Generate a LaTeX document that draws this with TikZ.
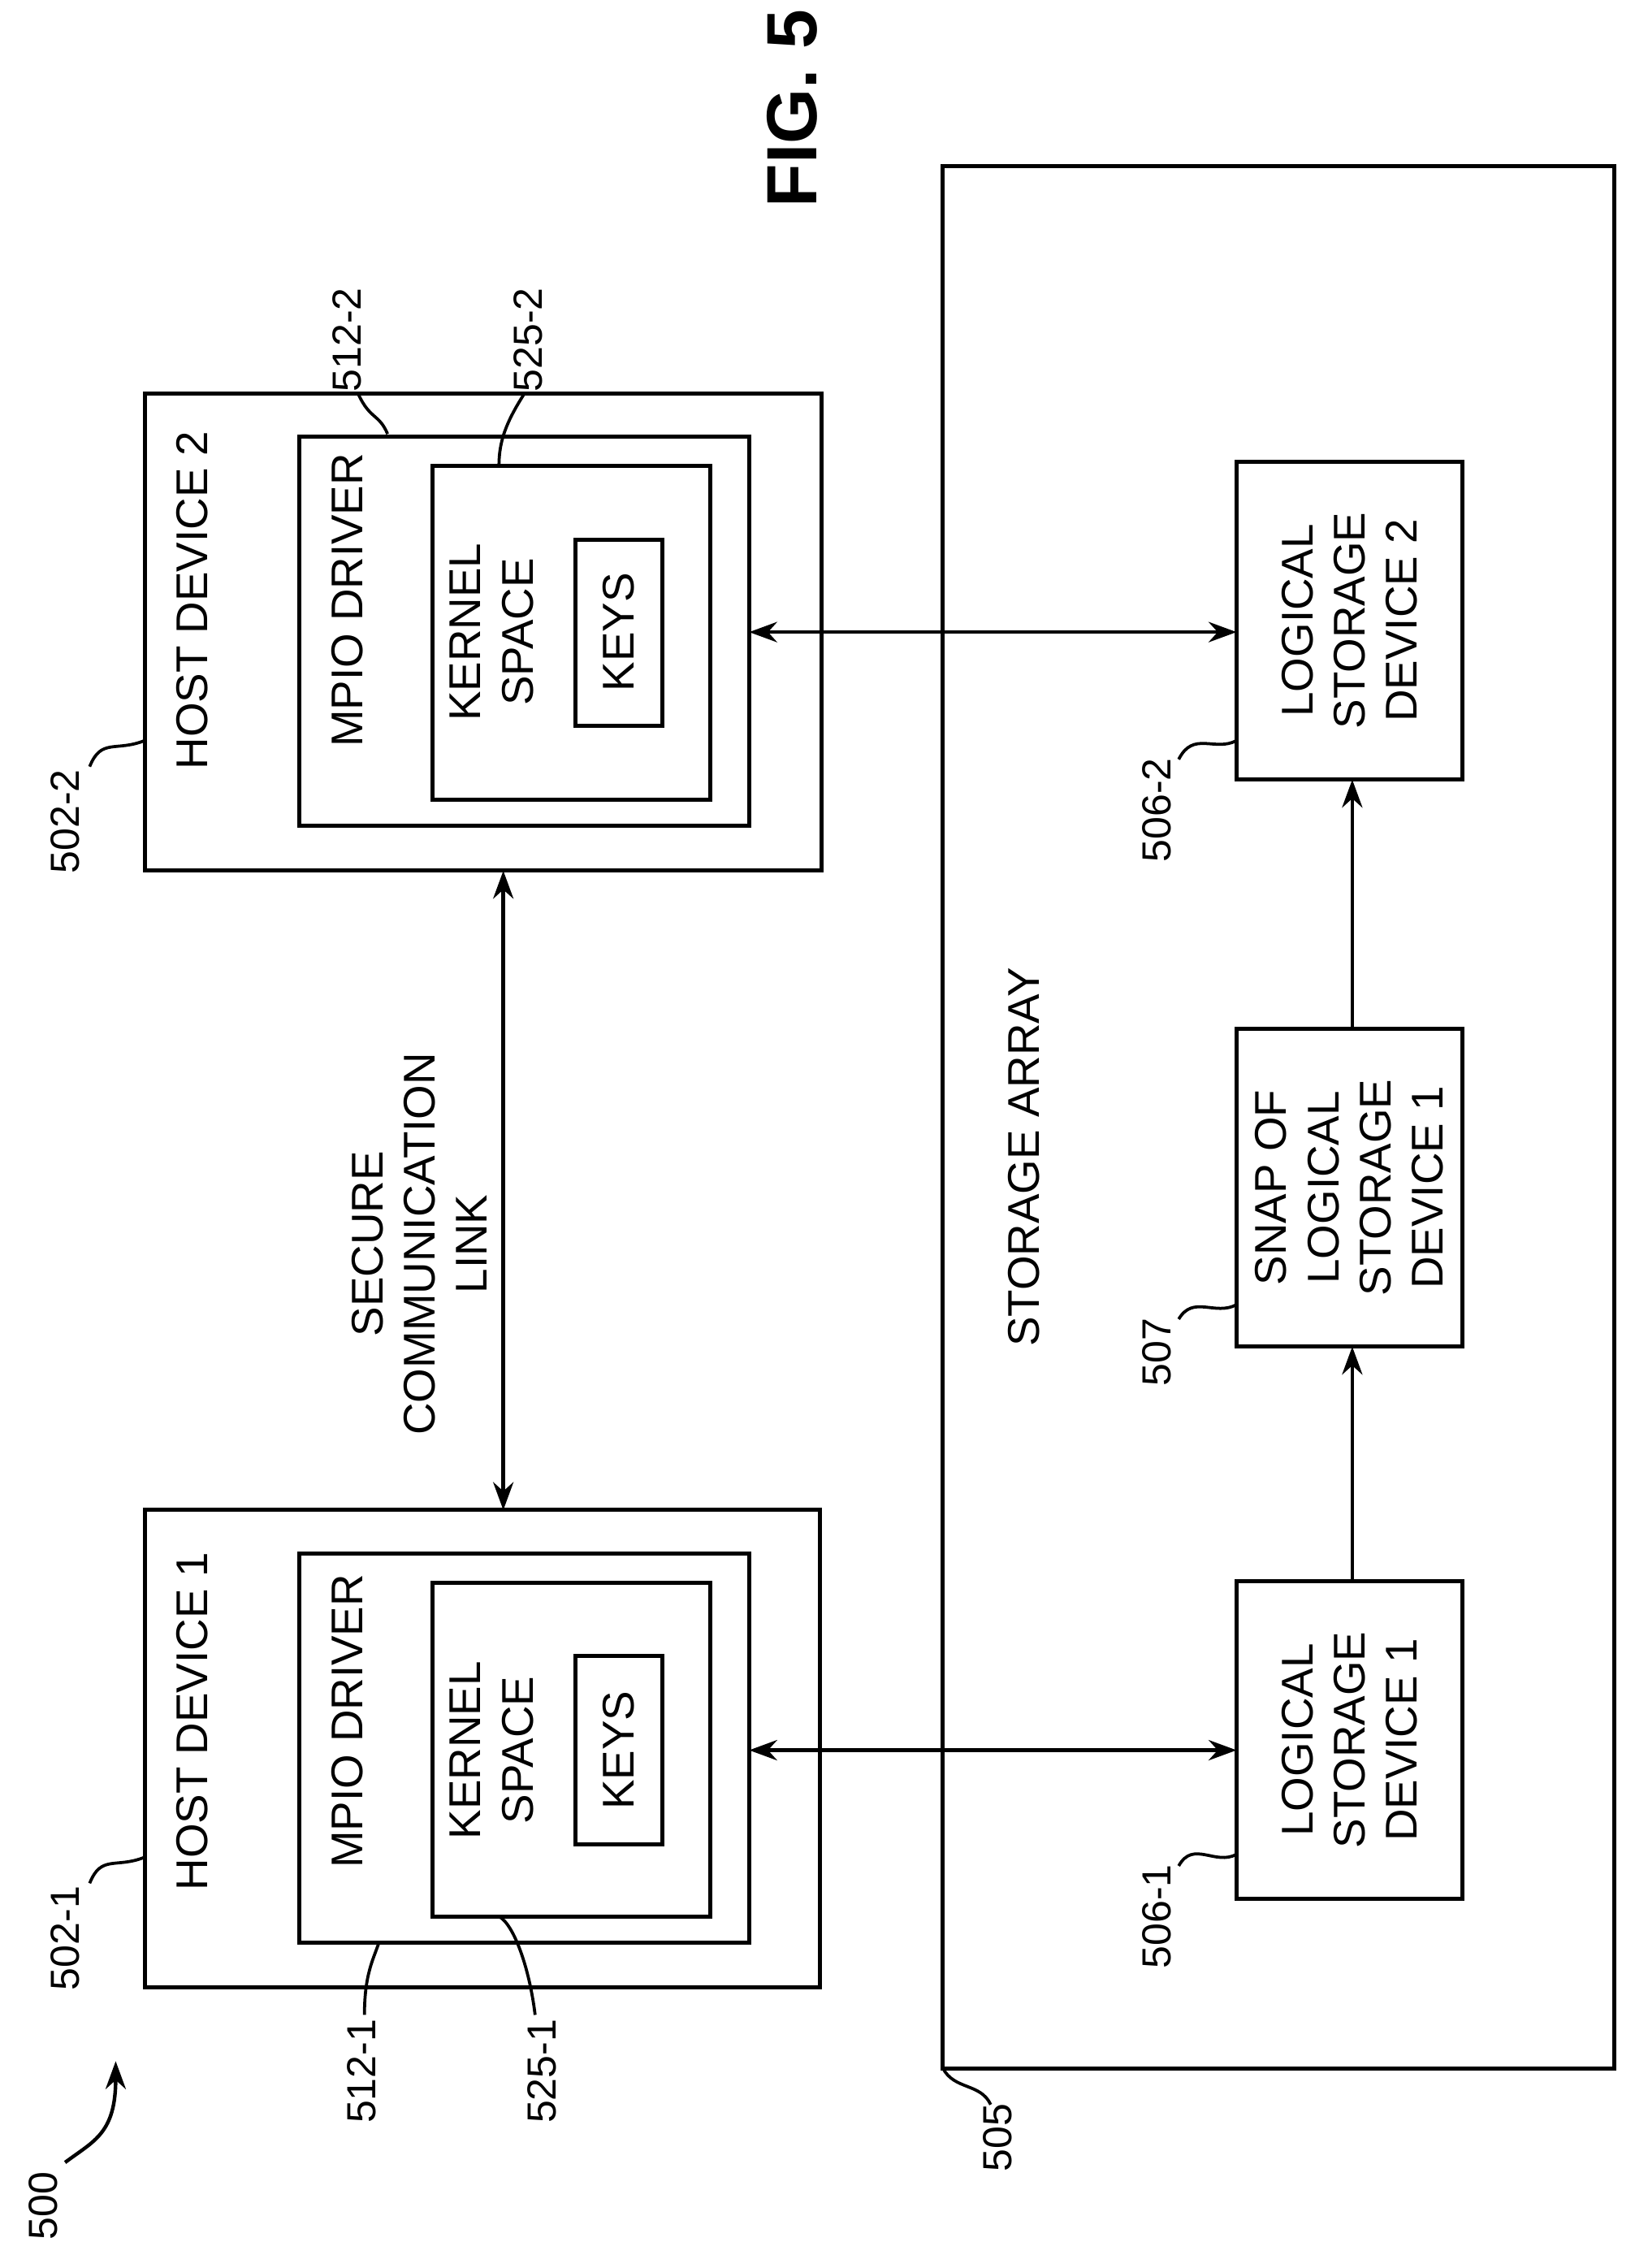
\documentclass[tikz,border=0pt]{standalone}
\usepackage{fontspec}
\setmainfont{Liberation Sans}
\usetikzlibrary{arrows.meta}
\begin{document}
\begin{tikzpicture}[x=0.02cm,y=-0.02cm,
  box/.style={draw,line width=1.6pt},
  t/.style={rotate=90,font=\fontsize{17.5}{20.5}\selectfont,align=center},
  lab/.style={rotate=90,font=\fontsize{16}{19}\selectfont},
  ar/.style={line width=1.4pt,{Stealth[length=11pt,width=8pt]}-{Stealth[length=11pt,width=8pt]}},
  sa/.style={line width=1.4pt,-{Stealth[length=11pt,width=8pt]}},
  ld/.style={line width=1.2pt}]
\useasboundingbox (0,0) rectangle (1130,1568);
% host 2
\draw[box] (100,272) rectangle (568,602);
\draw[box] (207,302) rectangle (518,571);
\draw[box] (299,322) rectangle (491,553);
\draw[box] (398,373) rectangle (458,502);
\node[t] (h2t) at (133,415) {HOST DEVICE 2};
\node[t] (m2t) at (240,415) {MPIO DRIVER};
\node[t] (k2t) at (340,437) {KERNEL\\SPACE};
\node[t] (y2t) at (428,437) {KEYS};
% host 1
\draw[box] (100,1044) rectangle (567,1374);
\draw[box] (207,1074) rectangle (518,1343);
\draw[box] (299,1094) rectangle (491,1325);
\draw[box] (398,1145) rectangle (458,1275);
\node[t] (h1t) at (133,1190) {HOST DEVICE 1};
\node[t] (m1t) at (240,1190) {MPIO DRIVER};
\node[t] (k1t) at (340,1210) {KERNEL\\SPACE};
\node[t] (y1t) at (428,1210) {KEYS};
% storage array
\draw[box] (652,115) rectangle (1116,1430);
\node[t] (sat) at (708,800) {STORAGE ARRAY};
\draw[box] (855,319) rectangle (1011,539);
\draw[box] (855,711) rectangle (1011,931);
\draw[box] (855,1093) rectangle (1011,1313);
\node[t] (l2) at (933,429) {LOGICAL\\STORAGE\\DEVICE 2};
\node[t] (sn) at (933,821) {SNAP OF\\LOGICAL\\STORAGE\\DEVICE 1};
\node[t] (l1) at (933,1203) {LOGICAL\\STORAGE\\DEVICE 1};
\coordinate (a1) at (518,437); \coordinate (b1) at (855,437);
\coordinate (a2) at (518,1210); \coordinate (b2) at (855,1210);
\coordinate (c1) at (348,602); \coordinate (c2) at (348,1044);
\draw[ar] (a1) -- (b1);
\draw[ar] (a2) -- (b2);
\draw[ar] (c1) -- (c2);
\coordinate (s1) at (935,1093); \coordinate (s2) at (935,931);
\coordinate (s3) at (935,711); \coordinate (s4) at (935,539);
\draw[sa] (s1) -- (s2);
\draw[sa] (s3) -- (s4);
\node[t] (sl) at (290,860) {SECURE\\COMMUNICATION\\LINK};
\node[font=\bfseries\fontsize{28}{32}\selectfont,rotate=90] (fig) at (548,75) {FIG. 5};
% labels
\node[lab] at (45,568) {502-2};
\draw[ld] (62,530) .. controls (70,510) and (80,520) .. (100,512);
\node[lab] at (240,235) {512-2};
\draw[ld] (248,273) .. controls (256,290) and (262,286) .. (268,300);
\node[lab] at (365,235) {525-2};
\draw[ld] (362,273) .. controls (350,292) and (345,305) .. (345,322);
\node[lab] at (45,1340) {502-1};
\draw[ld] (62,1302) .. controls (70,1282) and (80,1292) .. (100,1284);
\node[lab] at (250,1432) {512-1};
\draw[ld] (262,1343) .. controls (258,1355) and (252,1365) .. (252,1393);
\node[lab] at (375,1432) {525-1};
\draw[ld] (345,1325) .. controls (355,1330) and (366,1360) .. (370,1393);
\node[lab] at (690,1478) {505};
\draw[ld] (652,1430) .. controls (660,1445) and (678,1440) .. (685,1455);
\node[lab] at (800,560) {506-2};
\draw[ld] (815,525) .. controls (825,505) and (840,520) .. (855,512);
\node[lab] at (800,935) {507};
\draw[ld] (815,912) .. controls (825,895) and (840,910) .. (855,902);
\node[lab] at (800,1325) {506-1};
\draw[ld] (815,1290) .. controls (825,1272) and (840,1290) .. (855,1282);
\node[lab] at (30,1525) {500};
\coordinate (p5) at (80,1425);
\draw[sa] (45,1495) .. controls (65,1480) and (80,1475) .. (p5);
\end{tikzpicture}
\end{document}
